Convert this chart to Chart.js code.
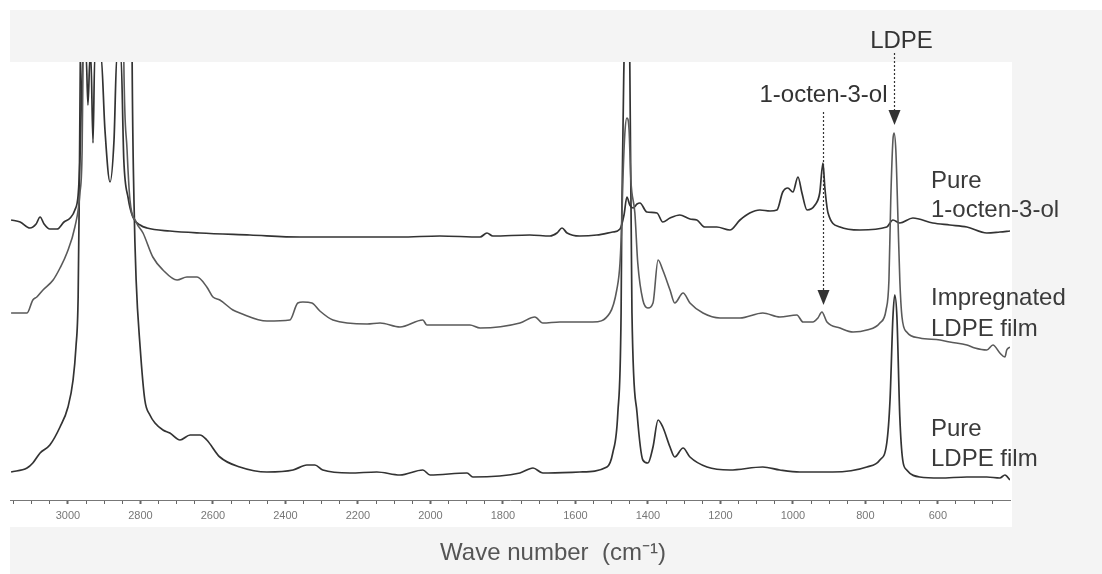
<!DOCTYPE html>
<html>
<head>
<meta charset="utf-8">
<script src="https://cdn.jsdelivr.net/npm/chart.js@4.4.1/dist/chart.umd.min.js"></script>
<style>
    html, body { margin: 0; padding: 0; background: #fff; }
    canvas { display: block; }
</style>
</head>
<body>
<canvas id="spectra" width="1102" height="574"></canvas>
<script>
//======================================================================================================================
// Data: wave numbers (cm-1) and stacked absorbance (arbitrary units, offset per spectrum)
//======================================================================================================================

    var octenolWave = [3157, 3132, 3105, 3088, 3077, 3066, 3050, 3030, 3011, 2994, 2981, 2972, 2967, 2959, 2950, 2945, 2939, 2937, 2931, 2926,
        2909, 2898, 2884, 2873, 2865, 2854, 2846, 2834, 2821, 2801, 2782, 2719, 2636, 2498, 2360, 2222, 2084, 1974, 1863, 1844,
        1828, 1726, 1670, 1651, 1637, 1623, 1588, 1541, 1497, 1477, 1466, 1458, 1450, 1441, 1430, 1422, 1403, 1375, 1359, 1339,
        1312, 1284, 1265, 1243, 1210, 1174, 1146, 1119, 1091, 1063, 1044, 1028, 1014, 1000, 986, 975, 961, 939, 926, 917,
        912, 903, 870, 815, 741, 724, 705, 669, 614, 567, 520, 465, 429, 401];
    var octenolAbs = [280, 278, 272, 276, 283, 276, 271, 271, 278, 282, 290, 305, 340, 445, 445, 395, 445, 445, 357, 445,
        445, 370, 318, 360, 445, 445, 340, 302, 283, 275, 272, 269, 267, 265, 263, 263, 263, 264, 263, 267,
        264, 265, 264, 267, 272, 267, 264, 265, 268, 271, 285, 303, 295, 292, 296, 297, 288, 287, 278, 282,
        285, 281, 280, 273, 273, 270, 280, 287, 290, 289, 290, 308, 312, 308, 323, 307, 290, 295, 307, 337,
        313, 287, 273, 270, 273, 280, 277, 282, 277, 275, 273, 267, 268, 269];

    var impregWave = [3157, 3113, 3097, 3086, 3069, 3041, 3022, 3003, 2981, 2967, 2961, 2956, 2950, 2856, 2846, 2837, 2829, 2812, 2793, 2766,
        2738, 2699, 2672, 2644, 2617, 2600, 2581, 2545, 2526, 2451, 2388, 2366, 2352, 2327, 2305, 2269, 2175, 2139, 2084, 2021,
        2010, 1891, 1863, 1753, 1712, 1690, 1643, 1552, 1505, 1486, 1477, 1472, 1469, 1463, 1458, 1452, 1447, 1436, 1428, 1414,
        1400, 1386, 1372, 1359, 1339, 1326, 1303, 1284, 1248, 1201, 1146, 1083, 1036, 989, 972, 945, 931, 920, 906, 870,
        834, 796, 760, 743, 735, 730, 724, 721, 716, 710, 705, 699, 686, 650, 594, 567, 520, 498, 465, 448,
        429, 415, 410, 401];
    var impregAbs = [187, 187, 200, 203, 210, 220, 232, 247, 273, 307, 350, 520, 900, 900, 440, 350, 300, 278, 267, 243,
        230, 220, 223, 223, 213, 203, 200, 190, 187, 179, 180, 197, 198, 197, 189, 180, 176, 177, 173, 180,
        175, 175, 172, 177, 183, 177, 178, 178, 187, 210, 237, 280, 320, 370, 382, 370, 320, 287, 237, 200,
        192, 197, 240, 230, 210, 197, 207, 197, 187, 182, 182, 187, 183, 185, 178, 178, 182, 188, 178, 172,
        168, 170, 177, 190, 220, 300, 360, 367, 350, 280, 220, 183, 168, 162, 160, 158, 155, 152, 150, 155,
        147, 143, 150, 153];

    var ldpeWave = [3157, 3113, 3097, 3077, 3050, 3022, 3000, 2986, 2978, 2972, 2969, 2966, 2959, 2829, 2823, 2818, 2812, 2801, 2788, 2774,
        2760, 2738, 2719, 2691, 2663, 2636, 2617, 2581, 2526, 2451, 2379, 2341, 2319, 2297, 2222, 2148, 2084, 2021, 2001, 1899,
        1883, 1753, 1717, 1690, 1588, 1513, 1497, 1483, 1474, 1472, 1466, 1458, 1450, 1444, 1430, 1414, 1400, 1386, 1372, 1359,
        1339, 1326, 1303, 1284, 1237, 1174, 1083, 1036, 981, 890, 796, 760, 741, 732, 724, 719, 713, 705, 697, 686,
        650, 594, 520, 465, 429, 415, 401];
    var ldpeAbs = [28, 32, 37, 47, 55, 73, 93, 120, 153, 203, 300, 440, 900, 900, 438, 300, 220, 153, 100, 85,
        77, 70, 67, 60, 65, 65, 60, 43, 33, 28, 30, 35, 35, 30, 27, 28, 25, 30, 25, 27,
        23, 27, 32, 27, 28, 33, 47, 87, 187, 287, 438, 560, 438, 187, 87, 40, 37, 53, 80, 73,
        53, 43, 52, 43, 33, 30, 33, 30, 28, 28, 33, 40, 57, 100, 183, 205, 183, 83, 40, 30,
        23, 22, 23, 23, 22, 25, 20];

    // peak markers: wave number, label, dotted line from / arrow tip (absorbance units)
    var arrowWave = [917, 721];
    var arrowLabels = ['1-octen-3-ol', 'LDPE'];
    var arrowFrom = [388, 447];
    var arrowTo = [195, 375];

    var spectrumLabels = [['Pure', '1-octen-3-ol'], ['Impregnated', 'LDPE film'], ['Pure', 'LDPE film']];

//======================================================================================================================
// Chart
//======================================================================================================================

    var FONT = '"Liberation Sans", Arial, sans-serif';

    function toPoints(wave, abs) {
        return wave.map(function(w, i) {
            return {x: w, y: abs[i]};
        });
    }

    var framePlugin = {
        id: 'frame',
        beforeDraw: function(chart) {
            var ctx = chart.ctx;
            var area = chart.chartArea;
            ctx.save();
            ctx.fillStyle = '#ffffff';
            ctx.fillRect(0, 0, chart.width, chart.height);
            ctx.fillStyle = '#f4f4f4';
            ctx.fillRect(10, 10, chart.width - 10, chart.height - 10);
            ctx.fillStyle = '#ffffff';
            ctx.fillRect(0, area.top, area.right + 2, area.bottom - area.top + 27);
            ctx.restore();
        }
    };

    var labelPlugin = {
        id: 'labels',
        afterDatasetsDraw: function(chart) {
            var ctx = chart.ctx;
            var xs = chart.scales.x, ys = chart.scales.y;
            var textShift = [[0, -10], [7, -5]];

            ctx.save();
            ctx.fillStyle = '#333';
            ctx.strokeStyle = '#333';
            ctx.font = '24px ' + FONT;
            ctx.textAlign = 'center';
            ctx.textBaseline = 'alphabetic';

            arrowWave.forEach(function(w, i) {
                var px = Math.round(xs.getPixelForValue(w)) + 0.5;
                var y0 = ys.getPixelForValue(arrowFrom[i]);
                var y1 = ys.getPixelForValue(arrowTo[i]);

                ctx.setLineDash([2, 2]);
                ctx.lineWidth = 1.2;
                ctx.beginPath();
                ctx.moveTo(px, y0);
                ctx.lineTo(px, y1 - 13);
                ctx.stroke();

                ctx.setLineDash([]);
                ctx.beginPath();
                ctx.moveTo(px - 6, y1 - 15);
                ctx.lineTo(px + 6, y1 - 15);
                ctx.lineTo(px, y1);
                ctx.closePath();
                ctx.fill();

                ctx.fillText(arrowLabels[i], px + textShift[i][0], y0 + textShift[i][1]);
            });

            // spectrum names at the right
            var rows = [[188, 217], [305, 336], [436, 466]];
            ctx.textAlign = 'left';
            ctx.fillStyle = '#3a3a3a';
            spectrumLabels.forEach(function(lines, i) {
                lines.forEach(function(t, j) {
                    ctx.fillText(t, 931, rows[i][j]);
                });
            });

            // axis title
            ctx.textAlign = 'center';
            ctx.fillStyle = '#555';
            ctx.fillText('Wave number  (cm\u207B\u00B9)', 553, 560);
            ctx.restore();
        }
    };

    new Chart(document.getElementById('spectra'), {
        type: 'line',
        data: {
            datasets: [{
                data: toPoints(impregWave, impregAbs),
                borderColor: '#5a5a5a',
                borderWidth: 1.6
            }, {
                data: toPoints(octenolWave, octenolAbs),
                borderColor: '#333333',
                borderWidth: 1.7
            }, {
                data: toPoints(ldpeWave, ldpeAbs),
                borderColor: '#333333',
                borderWidth: 1.7
            }]
        },
        options: {
            responsive: false,
            animation: false,
            devicePixelRatio: 1,
            layout: {
                padding: {top: 62, left: 10, right: 92, bottom: 0}
            },
            elements: {
                point: {radius: 0},
                line: {cubicInterpolationMode: 'monotone', fill: false}
            },
            plugins: {
                legend: {display: false},
                tooltip: {enabled: false}
            },
            scales: {
                x: {
                    type: 'linear',
                    reverse: true,
                    min: 401,
                    max: 3160,
                    afterFit: function(scale) {
                        scale.height = 74;
                    },
                    border: {display: true, color: '#777', width: 1},
                    grid: {
                        drawOnChartArea: false,
                        tickLength: 4,
                        tickColor: '#666',
                        tickWidth: function(c) {
                            return c.tick && c.tick.value % 200 === 0 ? 2 : 1;
                        }
                    },
                    ticks: {
                        stepSize: 50,
                        autoSkip: false,
                        includeBounds: false,
                        maxRotation: 0,
                        padding: 5,
                        color: '#777',
                        font: {family: '"Liberation Sans Narrow", "Liberation Sans", sans-serif', size: 11},
                        callback: function(v) {
                            return v % 200 === 0 ? String(v) : '';
                        }
                    }
                },
                y: {
                    display: false,
                    min: 0,
                    max: 438
                }
            }
        },
        plugins: [framePlugin, labelPlugin]
    });
</script>
</body>
</html>
